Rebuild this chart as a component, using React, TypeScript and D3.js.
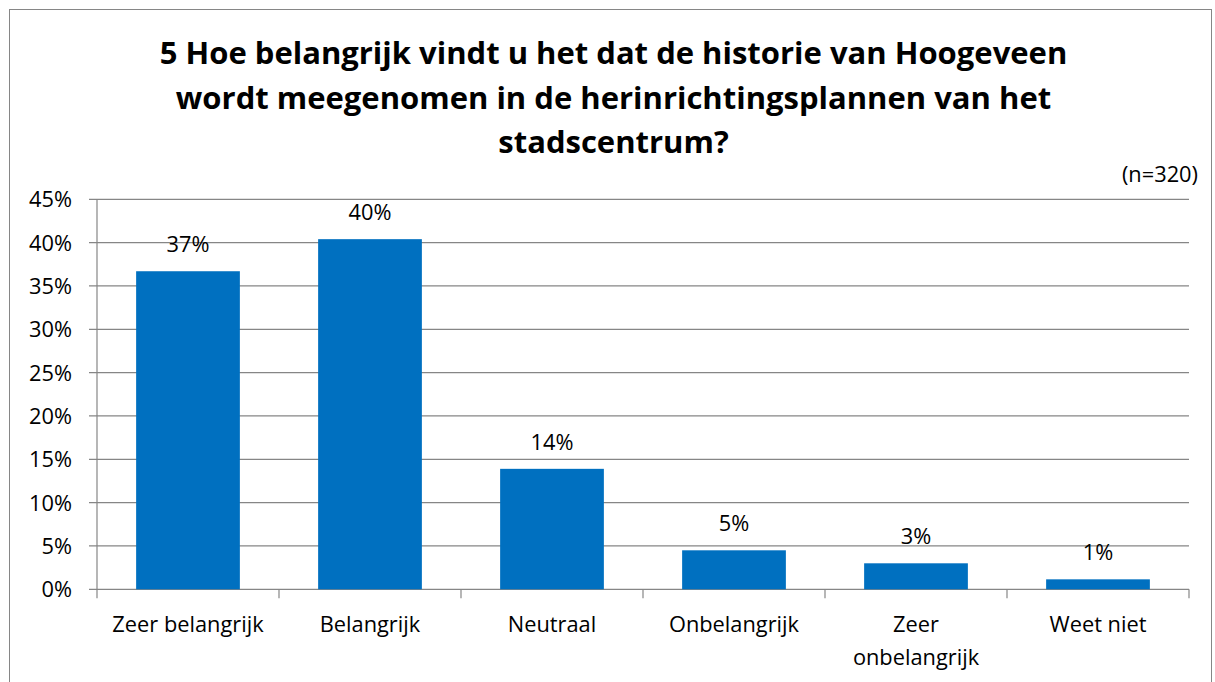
import React from "react";
import * as d3 from "d3";

const categories = ["Zeer belangrijk", "Belangrijk", "Neutraal", "Onbelangrijk", "Zeer onbelangrijk", "Weet niet"];
const categoryLines = [["Zeer belangrijk"], ["Belangrijk"], ["Neutraal"], ["Onbelangrijk"], ["Zeer", "onbelangrijk"], ["Weet niet"]];
const values = [36.7, 40.4, 13.9, 4.5, 3.0, 1.15];
const valueLabels = ["37%", "40%", "14%", "5%", "3%", "1%"];
const yTicks = [0, 5, 10, 15, 20, 25, 30, 35, 40, 45];
const titleLines = [
  "5 Hoe belangrijk vindt u het dat de historie van Hoogeveen",
  "wordt meegenomen in de herinrichtingsplannen van het",
  "stadscentrum?",
];
const subtitle = "(n=320)";

const W = 1215;
const H = 682;
const FONT = "'Open Sans', Lato, sans-serif";

export default function App() {
  const left = 97;
  const right = 1189;
  const top = 199.3;
  const bottom = 589.3;
  const x = d3.scaleBand<string>().domain(categories).range([left, right]).paddingInner(0.43).paddingOuter(0.215);
  const y = d3.scaleLinear().domain([0, 45]).range([bottom, top]);
  const step = (right - left) / categories.length;
  const fs = 21.8;

  return (
    <svg width={W} height={H} style={{ position: "absolute", left: 0, top: 0, background: "#fff" }} fontFamily={FONT}>
      <rect x={9.5} y={9.5} width={1202} height={700} fill="#fff" stroke="#868686" strokeWidth={1} />
      {titleLines.map((t, i) => (
        <text key={i} x={613.5} y={64 + i * 44.7} textAnchor="middle" fontSize={31} fontWeight="bold" fill="#000">
          {t}
        </text>
      ))}
      <text x={1198} y={182} textAnchor="end" fontSize={fs} fill="#000">{subtitle}</text>
      {yTicks.map((t) => (
        <g key={t}>
          <line x1={left - 8} x2={right} y1={y(t)} y2={y(t)} stroke="#868686" strokeWidth={1.2} />
          <text x={72} y={y(t) + 8} textAnchor="end" fontSize={fs} fill="#000">{t}%</text>
        </g>
      ))}
      <line x1={left} x2={left} y1={top} y2={bottom} stroke="#868686" strokeWidth={1.2} />
      {d3.range(categories.length + 1).map((i) => (
        <line key={i} x1={left + i * step} x2={left + i * step} y1={bottom} y2={bottom + 9} stroke="#868686" strokeWidth={1.2} />
      ))}
      {categories.map((c, i) => (
        <g key={c}>
          <rect x={x(c)!} y={y(values[i])} width={x.bandwidth()} height={bottom - y(values[i])} fill="#0070C0" />
          <text x={x(c)! + x.bandwidth() / 2} y={y(values[i]) - 19} textAnchor="middle" fontSize={fs} fill="#000">
            {valueLabels[i]}
          </text>
          {categoryLines[i].map((l, j) => (
            <text key={j} x={x(c)! + x.bandwidth() / 2} y={632 + j * 33} textAnchor="middle" fontSize={fs} fill="#000">
              {l}
            </text>
          ))}
        </g>
      ))}
    </svg>
  );
}
